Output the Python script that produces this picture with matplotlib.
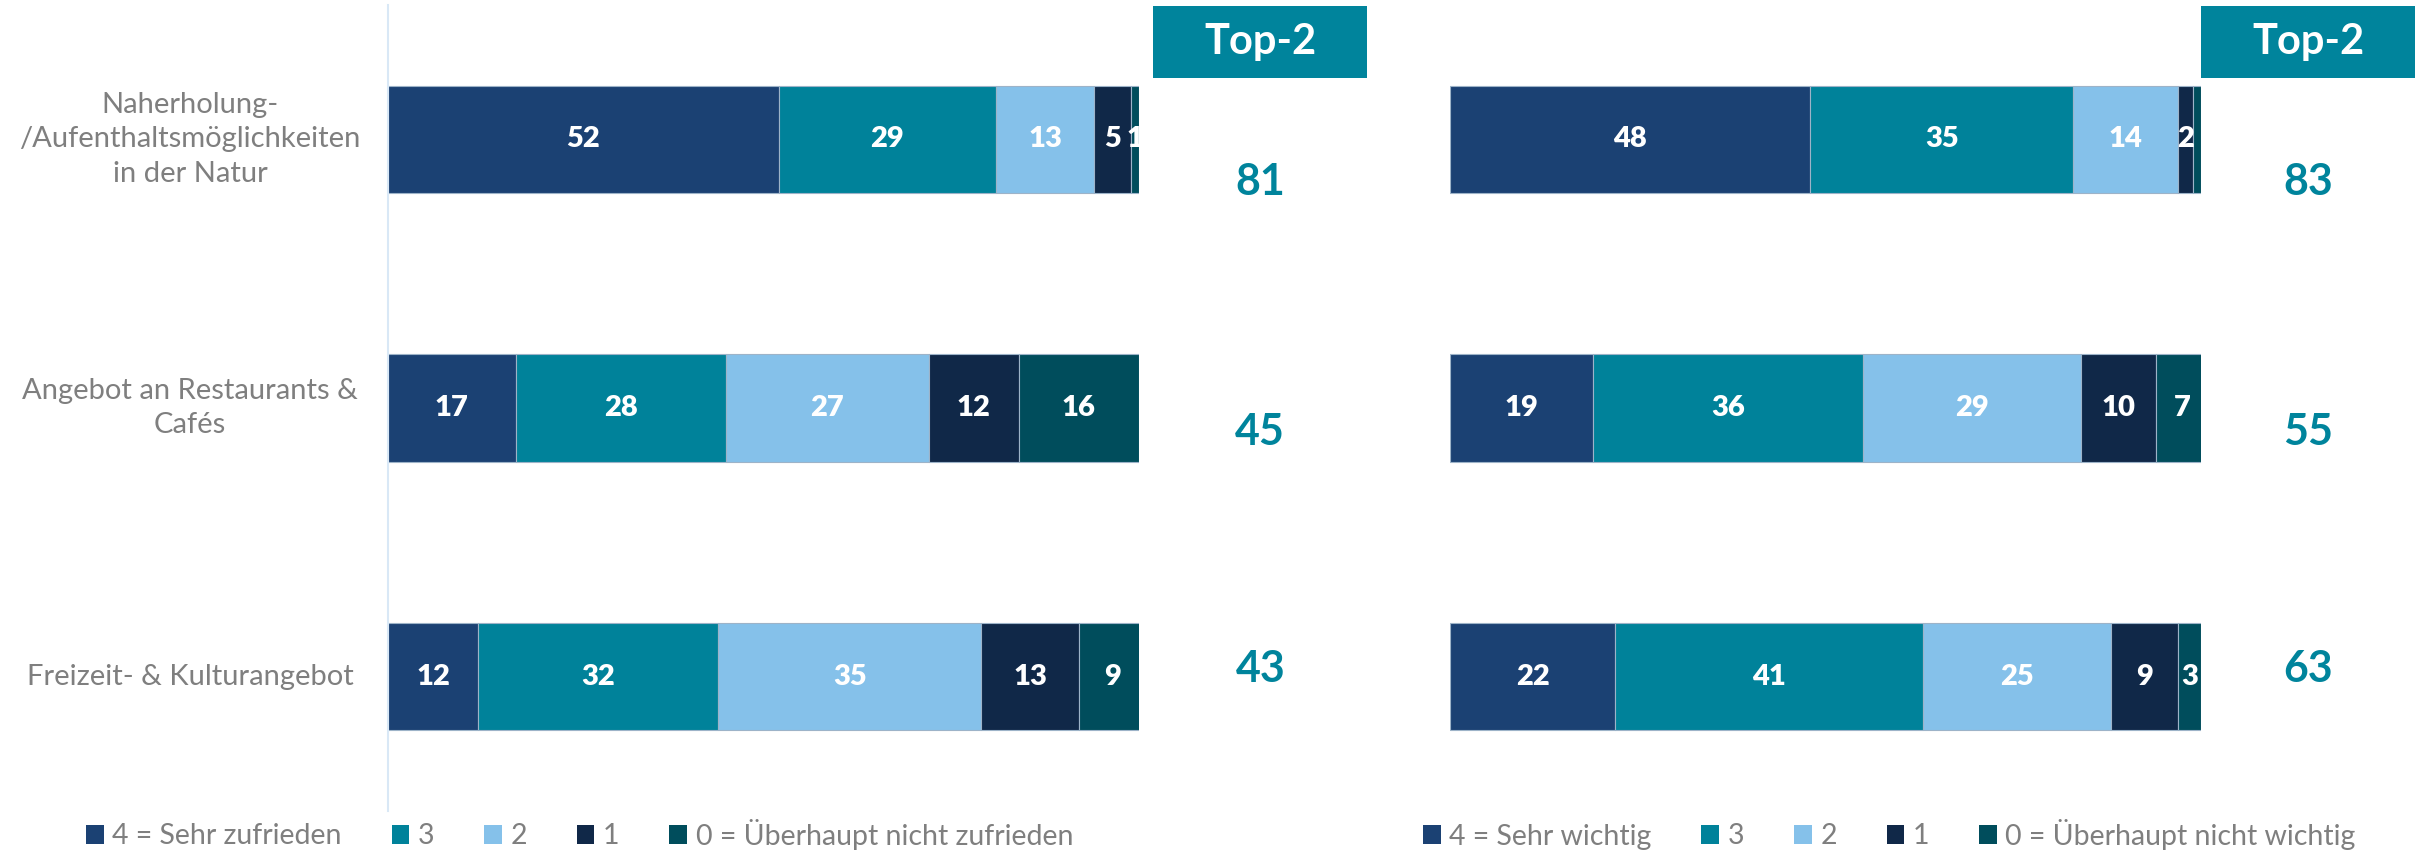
import matplotlib.pyplot as plt
import numpy as np
from matplotlib.patches import Rectangle, Patch
import matplotlib.transforms as mtransforms

plt.rcParams['font.family'] = ['Lato', 'DejaVu Sans']

categories = ['Naherholung-\n/Aufenthaltsmöglichkeiten\nin der Natur',
              'Angebot an Restaurants &\nCafés',
              'Freizeit- & Kulturangebot']

# Zufriedenheit (links), Anteile in %
sat_4 = [52, 17, 12]
sat_3 = [29, 28, 32]
sat_2 = [13, 27, 35]
sat_1 = [5, 12, 13]
sat_0 = [1, 16, 9]
sat_top2 = [81, 45, 43]

# Wichtigkeit (rechts), Anteile in %
imp_4 = [48, 19, 22]
imp_3 = [35, 36, 41]
imp_2 = [14, 29, 25]
imp_1 = [2, 10, 9]
imp_0 = [1, 7, 3]
imp_top2 = [83, 55, 63]

sat_legend = ['4 = Sehr zufrieden', '3', '2', '1', '0 = Überhaupt nicht zufrieden']
imp_legend = ['4 = Sehr wichtig', '3', '2', '1', '0 = Überhaupt nicht wichtig']

colors = ['#1B4173', '#00829A', '#85C1EA', '#102848', '#004D5C']
teal = '#00849C'
gray = '#7F7F7F'

W, H = 2433, 857
fig = plt.figure(figsize=(W / 100, H / 100), dpi=100)

ax_l = fig.add_axes([388 / W, 1 - 811 / H, 751 / W, 806 / H])
ax_r = fig.add_axes([1450 / W, 1 - 811 / H, 751 / W, 806 / H])

# y-Position der Top-2 Werte (leicht versetzt wie im Original)
top2_y = [0.16, 1.09, 1.97]


def draw(ax, series, top2, box_x, hidden=()):
    y = np.arange(len(categories))
    left = np.zeros(len(categories))
    for k, vals in enumerate(series):
        vals = np.array(vals, dtype=float)
        ax.barh(y, vals, left=left, height=0.4, color=colors[k],
                edgecolor='#9DB3C8', linewidth=0.8)
        for i, v in enumerate(vals):
            if (i, k) in hidden:
                continue
            ax.text(left[i] + v / 2, i, f'{int(v)}', ha='center', va='center',
                    color='white', fontsize=21, fontweight='heavy')
        left += vals
    ax.set_xlim(0, 100)
    ax.set_ylim(2.5, -0.5)
    ax.set_xticks([])
    ax.set_yticks([])
    for s in ax.spines.values():
        s.set_visible(False)

    # Top-2 Kasten
    ax.add_patch(Rectangle((box_x, -0.496), 28.5, 0.267, facecolor=teal,
                           edgecolor='none', clip_on=False))
    ax.text(box_x + 14.25, -0.3625, 'Top-2', ha='center', va='center',
            color='white', fontsize=30, fontweight='bold', clip_on=False)
    for i, t in enumerate(top2):
        ax.text(box_x + 14.25, top2_y[i], str(t), ha='center', va='center',
                color=teal, fontsize=31, fontweight='bold', clip_on=False)


draw(ax_l, [sat_4, sat_3, sat_2, sat_1, sat_0], sat_top2, 101.9)
draw(ax_r, [imp_4, imp_3, imp_2, imp_1, imp_0], imp_top2, 100.0, hidden={(0, 4)})

ax_l.spines['left'].set_visible(True)
ax_l.spines['left'].set_color('#D9E8F6')
ax_l.spines['left'].set_linewidth(1.5)

# Kategorienbeschriftung
trans = mtransforms.blended_transform_factory(ax_l.transAxes, ax_l.transData)
for i, c in enumerate(categories):
    ax_l.text((190 - 388) / 751, i, c, transform=trans, ha='center', va='center',
              multialignment='center', fontsize=21, color=gray, linespacing=1.4)

# Legenden
for labels, x0 in [(sat_legend, 86), (imp_legend, 1423)]:
    handles = [Patch(facecolor=c, edgecolor='none') for c in colors]
    fig.legend(handles, labels, ncol=5, loc='center left',
               bbox_to_anchor=(x0 / W, 1 - 834 / H), frameon=False,
               fontsize=20.5, labelcolor=gray, handlelength=0.62,
               handleheight=0.68, handletextpad=0.3, columnspacing=1.75,
               borderpad=0, borderaxespad=0)

fig.savefig('out.png', dpi=100)
